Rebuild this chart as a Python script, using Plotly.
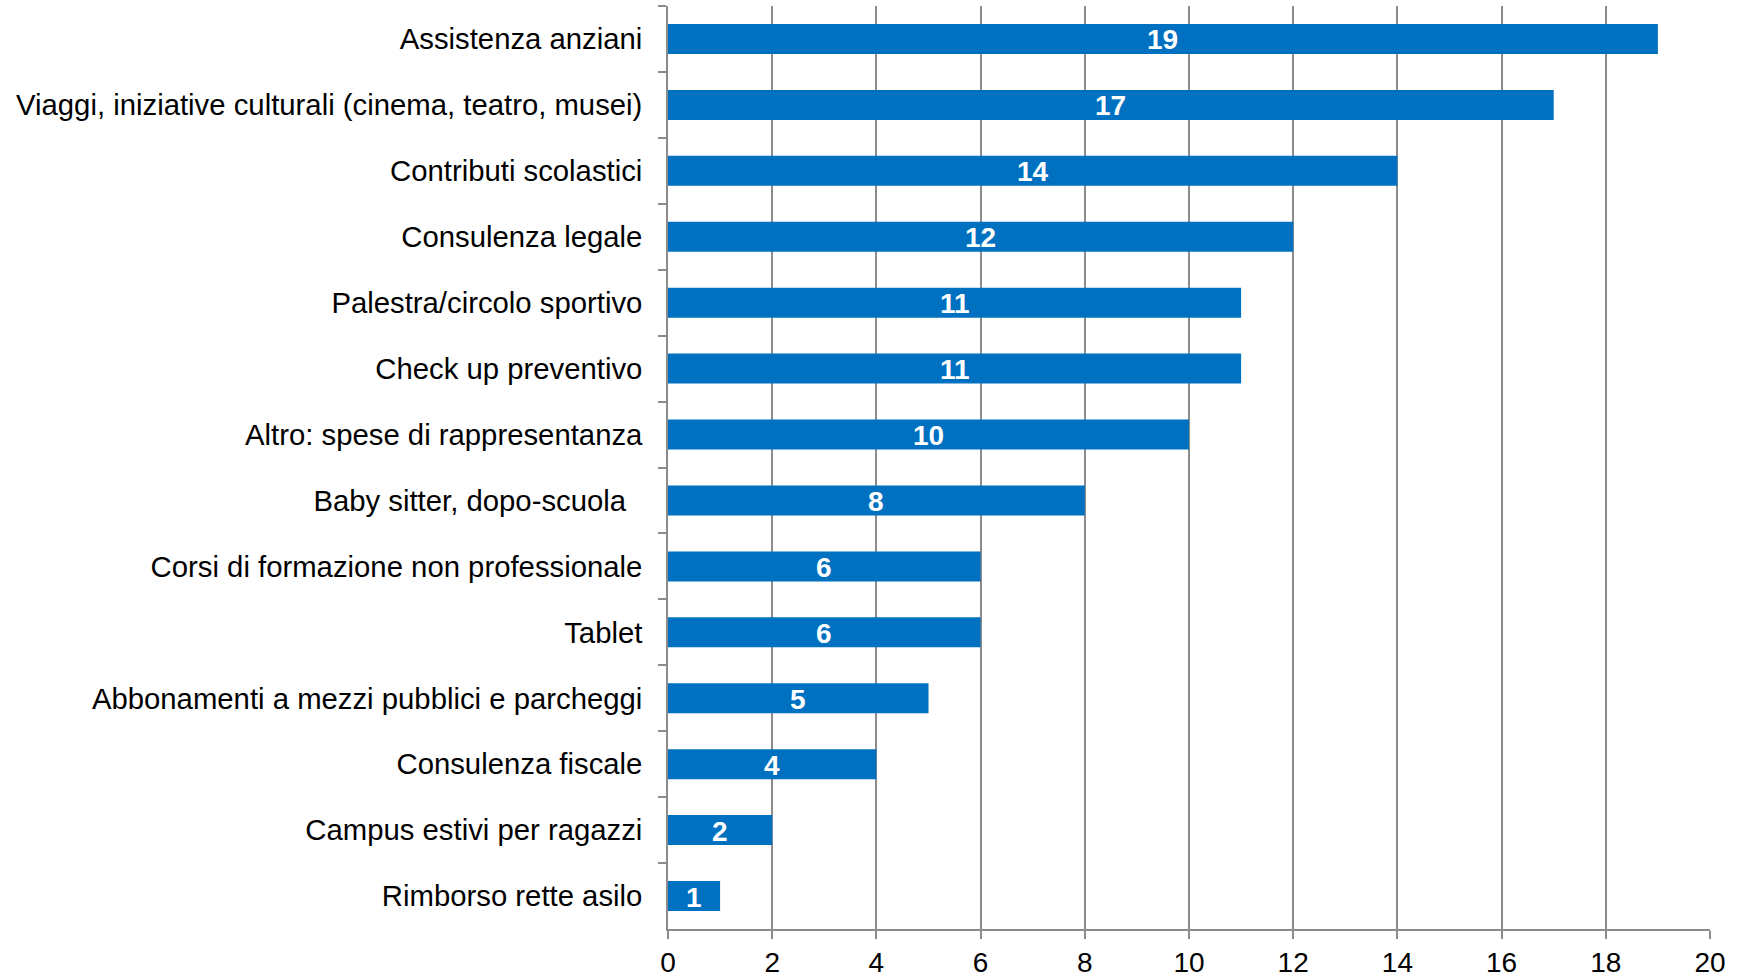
import plotly.graph_objects as go

# Benefit categories (top to bottom) and number of mentions
categories = [
    "Assistenza anziani",
    "Viaggi, iniziative culturali (cinema, teatro, musei)",
    "Contributi scolastici",
    "Consulenza legale",
    "Palestra/circolo sportivo",
    "Check up preventivo",
    "Altro: spese di rappresentanza",
    "Baby sitter, dopo-scuola\u00a0\u00a0",
    "Corsi di formazione non professionale",
    "Tablet",
    "Abbonamenti a mezzi pubblici e parcheggi",
    "Consulenza fiscale",
    "Campus estivi per ragazzi",
    "Rimborso rette asilo",
]
values = [19, 17, 14, 12, 11, 11, 10, 8, 6, 6, 5, 4, 2, 1]
x_ticks = [0, 2, 4, 6, 8, 10, 12, 14, 16, 18, 20]

FONT = "Liberation Sans, Arial, sans-serif"
BAR_COLOR = "#0070C0"
GRID = "#8c8c8c"

fig = go.Figure()
fig.add_trace(go.Bar(
    x=values,
    y=categories,
    orientation="h",
    marker=dict(color=BAR_COLOR, line=dict(width=0)),
    width=0.455,
    hoverinfo="x+y",
))

# value labels centred inside each bar
for cat, v in zip(categories, values):
    fig.add_annotation(
        x=v / 2,
        y=cat,
        text=str(v),
        showarrow=False,
        xanchor="center",
        yanchor="middle",
        yshift=-1,
        font=dict(family=FONT, size=28, color="white", weight="bold"),
    )

fig.update_layout(
    width=1737,
    height=979,
    margin=dict(l=668, r=27, t=6, b=50),
    paper_bgcolor="white",
    plot_bgcolor="white",
    showlegend=False,
    font=dict(family=FONT, size=29.3, color="black"),
)
fig.update_xaxes(
    range=[0, 20],
    tickmode="array",
    tickvals=x_ticks,
    ticks="outside",
    ticklen=8,
    tickwidth=1.5,
    tickcolor=GRID,
    showgrid=True,
    gridcolor=GRID,
    gridwidth=1.5,
    showline=True,
    linecolor=GRID,
    linewidth=1.5,
    zeroline=False,
    automargin=False,
    tickfont=dict(family=FONT, size=28, color="black"),
    fixedrange=True,
)
fig.update_yaxes(
    type="category",
    categoryorder="array",
    categoryarray=categories,
    autorange="reversed",
    tickson="boundaries",
    ticks="outside",
    ticklen=8,
    tickwidth=1.5,
    tickcolor=GRID,
    showgrid=False,
    showline=True,
    linecolor=GRID,
    linewidth=1.5,
    automargin=False,
    ticklabelstandoff=18,
    tickfont=dict(family=FONT, size=29.3, color="black"),
    fixedrange=True,
)

fig.write_html("out.html")
